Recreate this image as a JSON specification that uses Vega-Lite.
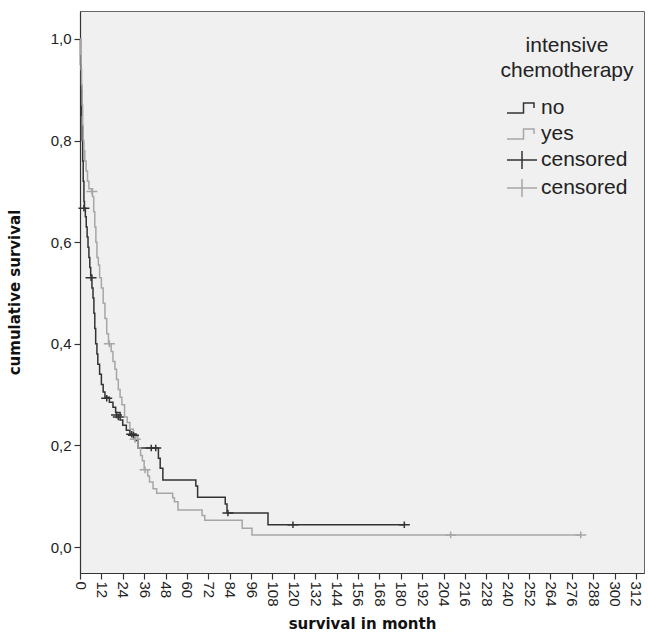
{
  "$schema": "https://vega.github.io/schema/vega-lite/v6.json",
  "width": 564,
  "height": 562,
  "autosize": {"type": "none"},
  "padding": {"left": 80, "top": 11, "right": 4, "bottom": 68},
  "background": "white",
  "config": {
    "view": {"fill": "#f0f0f0", "stroke": "#666666", "strokeWidth": 1},
    "font": "Liberation Sans",
    "axis": {
      "domainColor": "#333333", "domainWidth": 1.2, "tickColor": "#333333", "tickWidth": 1.2,
      "tickSize": 6, "labelColor": "#222222", "labelFont": "Liberation Sans", "labelFontSize": 15,
      "titleFont": "DejaVu Sans", "titleFontWeight": "bold", "titleFontSize": 15, "titleColor": "#111111", "grid": false
    }
  },
  "datasets": {
    "curves": [
      {"month": 0, "surv": 1.0, "group": "no"},
      {"month": 0.3, "surv": 0.95, "group": "no"},
      {"month": 0.6, "surv": 0.9, "group": "no"},
      {"month": 0.9, "surv": 0.85, "group": "no"},
      {"month": 1.2, "surv": 0.8, "group": "no"},
      {"month": 1.5, "surv": 0.76, "group": "no"},
      {"month": 1.8, "surv": 0.72, "group": "no"},
      {"month": 2.2, "surv": 0.68, "group": "no"},
      {"month": 2.5, "surv": 0.667, "group": "no"},
      {"month": 3, "surv": 0.65, "group": "no"},
      {"month": 3.5, "surv": 0.63, "group": "no"},
      {"month": 4, "surv": 0.61, "group": "no"},
      {"month": 4.5, "surv": 0.59, "group": "no"},
      {"month": 5, "surv": 0.57, "group": "no"},
      {"month": 5.5, "surv": 0.55, "group": "no"},
      {"month": 6, "surv": 0.535, "group": "no"},
      {"month": 6.7, "surv": 0.51, "group": "no"},
      {"month": 7.3, "surv": 0.49, "group": "no"},
      {"month": 7.8, "surv": 0.46, "group": "no"},
      {"month": 8.3, "surv": 0.43, "group": "no"},
      {"month": 8.8, "surv": 0.4, "group": "no"},
      {"month": 9.5, "surv": 0.38, "group": "no"},
      {"month": 10, "surv": 0.36, "group": "no"},
      {"month": 11, "surv": 0.34, "group": "no"},
      {"month": 12, "surv": 0.32, "group": "no"},
      {"month": 13, "surv": 0.305, "group": "no"},
      {"month": 14, "surv": 0.295, "group": "no"},
      {"month": 16.5, "surv": 0.285, "group": "no"},
      {"month": 18.5, "surv": 0.275, "group": "no"},
      {"month": 20, "surv": 0.265, "group": "no"},
      {"month": 22.5, "surv": 0.25, "group": "no"},
      {"month": 24, "surv": 0.24, "group": "no"},
      {"month": 26, "surv": 0.23, "group": "no"},
      {"month": 28, "surv": 0.222, "group": "no"},
      {"month": 31, "surv": 0.21, "group": "no"},
      {"month": 32.5, "surv": 0.195, "group": "no"},
      {"month": 44, "surv": 0.175, "group": "no"},
      {"month": 45, "surv": 0.155, "group": "no"},
      {"month": 46.5, "surv": 0.132, "group": "no"},
      {"month": 65, "surv": 0.12, "group": "no"},
      {"month": 66, "surv": 0.098, "group": "no"},
      {"month": 81.5, "surv": 0.085, "group": "no"},
      {"month": 82.5, "surv": 0.067, "group": "no"},
      {"month": 105.5, "surv": 0.044, "group": "no"},
      {"month": 182, "surv": 0.044, "group": "no"},
      {"month": 0, "surv": 1.0, "group": "yes"},
      {"month": 0.3, "surv": 0.97, "group": "yes"},
      {"month": 0.6, "surv": 0.94, "group": "yes"},
      {"month": 0.9, "surv": 0.91, "group": "yes"},
      {"month": 1.2, "surv": 0.87, "group": "yes"},
      {"month": 1.5, "surv": 0.83, "group": "yes"},
      {"month": 1.8, "surv": 0.8, "group": "yes"},
      {"month": 2.2, "surv": 0.78, "group": "yes"},
      {"month": 2.7, "surv": 0.76, "group": "yes"},
      {"month": 3.4, "surv": 0.74, "group": "yes"},
      {"month": 4.2, "surv": 0.72, "group": "yes"},
      {"month": 5, "surv": 0.705, "group": "yes"},
      {"month": 7, "surv": 0.69, "group": "yes"},
      {"month": 7.7, "surv": 0.66, "group": "yes"},
      {"month": 8.3, "surv": 0.63, "group": "yes"},
      {"month": 8.9, "surv": 0.6, "group": "yes"},
      {"month": 9.5, "surv": 0.57, "group": "yes"},
      {"month": 10.3, "surv": 0.555, "group": "yes"},
      {"month": 11, "surv": 0.53, "group": "yes"},
      {"month": 12, "surv": 0.51, "group": "yes"},
      {"month": 13, "surv": 0.48, "group": "yes"},
      {"month": 14, "surv": 0.45, "group": "yes"},
      {"month": 15, "surv": 0.42, "group": "yes"},
      {"month": 16, "surv": 0.4, "group": "yes"},
      {"month": 17.5, "surv": 0.385, "group": "yes"},
      {"month": 18.5, "surv": 0.365, "group": "yes"},
      {"month": 19.6, "surv": 0.35, "group": "yes"},
      {"month": 20.5, "surv": 0.33, "group": "yes"},
      {"month": 21.5, "surv": 0.31, "group": "yes"},
      {"month": 22.5, "surv": 0.295, "group": "yes"},
      {"month": 23.5, "surv": 0.28, "group": "yes"},
      {"month": 25, "surv": 0.256, "group": "yes"},
      {"month": 26.5, "surv": 0.245, "group": "yes"},
      {"month": 28, "surv": 0.232, "group": "yes"},
      {"month": 30, "surv": 0.217, "group": "yes"},
      {"month": 32.5, "surv": 0.195, "group": "yes"},
      {"month": 34, "surv": 0.18, "group": "yes"},
      {"month": 35, "surv": 0.17, "group": "yes"},
      {"month": 36, "surv": 0.152, "group": "yes"},
      {"month": 38, "surv": 0.14, "group": "yes"},
      {"month": 39, "surv": 0.128, "group": "yes"},
      {"month": 41, "surv": 0.115, "group": "yes"},
      {"month": 43, "surv": 0.106, "group": "yes"},
      {"month": 52, "surv": 0.097, "group": "yes"},
      {"month": 53, "surv": 0.089, "group": "yes"},
      {"month": 55, "surv": 0.073, "group": "yes"},
      {"month": 68.5, "surv": 0.062, "group": "yes"},
      {"month": 70, "surv": 0.053, "group": "yes"},
      {"month": 91, "surv": 0.037, "group": "yes"},
      {"month": 96.5, "surv": 0.024, "group": "yes"},
      {"month": 281, "surv": 0.024, "group": "yes"}
    ],
    "censors": [
      {"month": 2.2, "surv": 0.667, "group": "cens_no"},
      {"month": 6.2, "surv": 0.53, "group": "cens_no"},
      {"month": 15, "surv": 0.293, "group": "cens_no"},
      {"month": 20.5, "surv": 0.26, "group": "cens_no"},
      {"month": 21.5, "surv": 0.256, "group": "cens_no"},
      {"month": 29, "surv": 0.222, "group": "cens_no"},
      {"month": 30, "surv": 0.22, "group": "cens_no"},
      {"month": 40, "surv": 0.195, "group": "cens_no"},
      {"month": 42.5, "surv": 0.195, "group": "cens_no"},
      {"month": 83, "surv": 0.067, "group": "cens_no"},
      {"month": 119.5, "surv": 0.044, "group": "cens_no"},
      {"month": 182, "surv": 0.044, "group": "cens_no"},
      {"month": 6.7, "surv": 0.7, "group": "cens_yes"},
      {"month": 16.5, "surv": 0.4, "group": "cens_yes"},
      {"month": 31, "surv": 0.212, "group": "cens_yes"},
      {"month": 36.5, "surv": 0.152, "group": "cens_yes"},
      {"month": 208, "surv": 0.024, "group": "cens_yes"},
      {"month": 281, "surv": 0.024, "group": "cens_yes"}
    ]
  },
  "encoding": {
    "x": {
      "field": "month", "type": "quantitative",
      "scale": {"domain": [0, 316.5], "nice": false, "zero": false},
      "axis": {
        "title": "survival in month", "values": [0,12,24,36,48,60,72,84,96,108,120,132,144,156,168,180,192,204,216,228,240,252,264,276,288,300,312],
        "labelAngle": 90, "labelAlign": "left", "labelBaseline": "middle", "labelPadding": 2, "labelOverlap": false,
        "labelFlush": false, "titlePadding": 10
      }
    },
    "y": {
      "field": "surv", "type": "quantitative",
      "scale": {"domain": [-0.051, 1.055], "nice": false, "zero": false},
      "axis": {
        "title": "cumulative survival", "values": [0, 0.2, 0.4, 0.6, 0.8, 1.0],
        "labelExpr": "replace(format(datum.value, '.1f'), '.', ',')", "labelFlush": false, "labelPadding": 3,
        "titlePadding": 28
      }
    }
  },
  "layer": [
    {
      "data": {"name": "curves"},
      "mark": {"type": "line", "interpolate": "step-after", "strokeWidth": 1.5},
      "encoding": {
        "color": {
          "field": "group", "type": "nominal",
          "scale": {"domain": ["no", "yes", "cens_no", "cens_yes"], "range": ["#333333", "#a6a6a6", "#333333", "#a6a6a6"]},
          "legend": {
            "title": ["intensive", "chemotherapy"], "orient": "none", "legendX": 420, "legendY": 24,
            "titleAlign": "center", "titleAnchor": "middle", "titleFont": "Liberation Sans", "titleFontWeight": "normal",
            "titleFontSize": 21, "titleLineHeight": 25, "titleColor": "#222222", "titlePadding": 11,
            "labelFont": "Liberation Sans", "labelFontSize": 21, "labelColor": "#222222", "labelOffset": 3,
            "labelExpr": "datum.value == 'no' || datum.value == 'yes' ? datum.value : 'censored'",
            "symbolSize": 900, "symbolStrokeWidth": 1.5, "rowPadding": -3, "symbolFillColor": "transparent"
          }
        }
      }
    },
    {
      "data": {"name": "censors"},
      "mark": {"type": "point", "filled": false, "size": 121, "strokeWidth": 1.5, "opacity": 1},
      "encoding": {
        "color": {"field": "group", "type": "nominal"},
        "shape": {
          "field": "group", "type": "nominal",
          "scale": {"domain": ["no", "yes", "cens_no", "cens_yes"], "range": ["M-1,0.33 H0.1 V-0.33 H0.8 V0", "M-1,0.33 H0.1 V-0.33 H0.8 V0", "M-1,0 H1 M0,-0.6 V0.6", "M-1,0 H1 M0,-0.6 V0.6"]},
          "legend": {
            "title": ["intensive", "chemotherapy"], "orient": "none", "legendX": 420, "legendY": 24,
            "titleAlign": "center", "titleAnchor": "middle", "titleFont": "Liberation Sans", "titleFontWeight": "normal",
            "titleFontSize": 21, "titleLineHeight": 25, "titleColor": "#222222", "titlePadding": 11,
            "labelFont": "Liberation Sans", "labelFontSize": 21, "labelColor": "#222222", "labelOffset": 3,
            "labelExpr": "datum.value == 'no' || datum.value == 'yes' ? datum.value : 'censored'",
            "symbolSize": 900, "symbolStrokeWidth": 1.5, "rowPadding": -3, "symbolFillColor": "transparent"
          }
        }
      }
    }
  ]
}
